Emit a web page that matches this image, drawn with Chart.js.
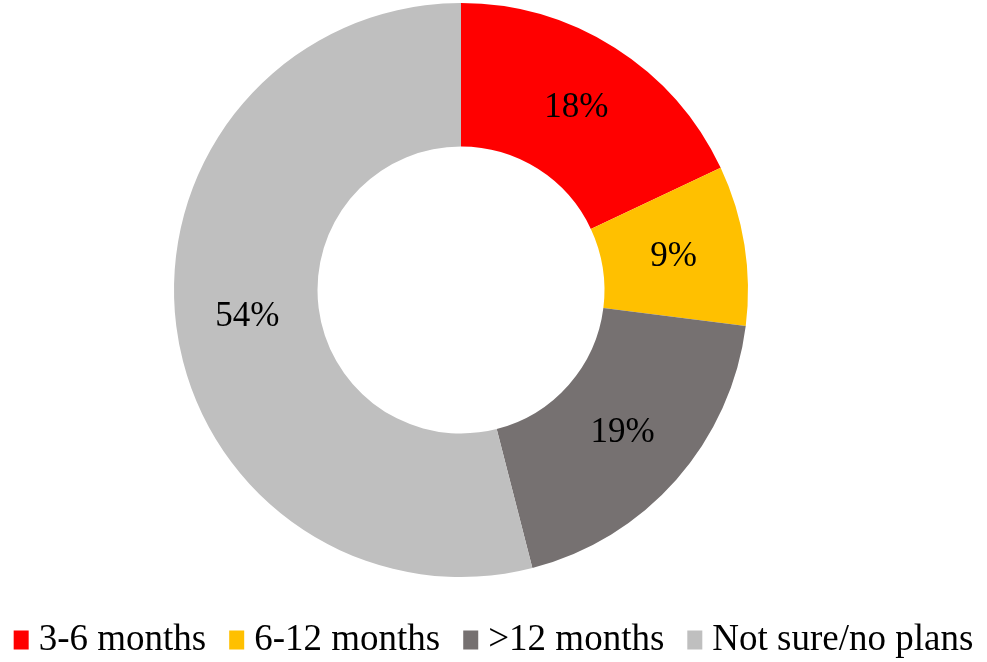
<!DOCTYPE html>
<html>
<head>
<meta charset="utf-8">
<script src="https://cdn.jsdelivr.net/npm/chart.js@4"></script>
<style>
  html, body { margin: 0; padding: 0; background: #fff; }
  #wrap { width: 987px; height: 662px; }
</style>
</head>
<body>
<div id="wrap"><canvas id="myDonut" width="987" height="662"></canvas></div>
<script>
const categories = ['3-6 months', '6-12 months', '>12 months', 'Not sure/no plans'];
const shares = [18, 9, 19, 54];
const sliceColors = ['#FF0000', '#FFC000', '#767171', '#BFBFBF'];

const serif = '"Liberation Serif", "Times New Roman", serif';

// percentage labels in the middle of each ring segment
const sliceLabels = {
  id: 'sliceLabels',
  afterDatasetsDraw(chart) {
    const c = chart.ctx;
    const meta = chart.getDatasetMeta(0);
    c.save();
    c.font = '35px ' + serif;
    c.fillStyle = '#000';
    c.textAlign = 'center';
    c.textBaseline = 'middle';
    meta.data.forEach((arc, i) => {
      const p = arc.tooltipPosition();
      c.fillText(shares[i] + '%', p.x, p.y);
    });
    c.restore();
  }
};

// legend row along the bottom, centred on the canvas
const bottomLegend = {
  id: 'bottomLegend',
  afterDraw(chart) {
    const c = chart.ctx;
    c.save();
    c.font = '37px ' + serif;
    c.textBaseline = 'middle';
    const boxW = 15, boxH = 19, gapBox = 10, gapItem = 23;
    const widths = categories.map(t => c.measureText(t).width);
    let total = widths.reduce((a, b) => a + b, 0) + categories.length * (boxW + gapBox) + (categories.length - 1) * gapItem;
    let x = (chart.width - total) / 2;
    const y = 640;
    categories.forEach((t, i) => {
      c.fillStyle = sliceColors[i];
      c.fillRect(x, y - boxH / 2, boxW, boxH);
      x += boxW + gapBox;
      c.fillStyle = '#000';
      c.fillText(t, x, y);
      x += widths[i] + gapItem;
    });
    c.restore();
  }
};

const ctx = document.getElementById('myDonut').getContext('2d');
const myDonut = new Chart(ctx, {
  type: 'doughnut',
  data: {
    labels: categories,
    datasets: [{
      data: shares,
      backgroundColor: sliceColors,
      borderWidth: 0
    }]
  },
  options: {
    responsive: false,
    animation: false,
    cutout: '50%',
    layout: { padding: { left: 0, right: 65, top: 3, bottom: 85 } },
    plugins: {
      legend: { display: false },
      tooltip: { enabled: false }
    }
  },
  plugins: [sliceLabels, bottomLegend]
});
</script>
</body>
</html>
